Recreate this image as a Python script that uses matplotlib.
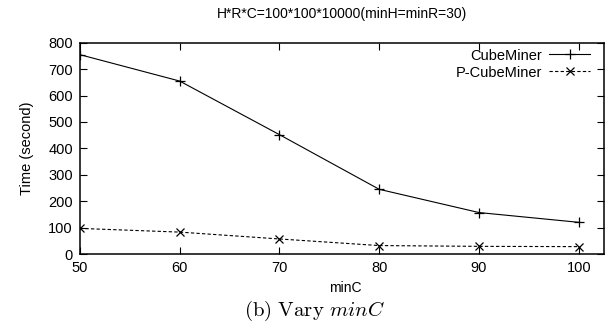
import matplotlib
matplotlib.use("Agg")
import matplotlib.pyplot as plt

min_c = [50, 60, 70, 80, 90, 100]
cubeminer = [755, 655, 452, 245, 157, 120]
p_cubeminer = [97, 83, 57, 32, 29, 28]
y_ticks = [0, 100, 200, 300, 400, 500, 600, 700, 800]

plt.rcParams["font.family"] = "Liberation Sans"
plt.rcParams["mathtext.fontset"] = "cm"

fig = plt.figure(figsize=(6.05, 3.24), dpi=100)
ax = fig.add_axes([0.132, 0.216, 0.866, 0.652])

ax.plot(min_c, cubeminer, color="black", linewidth=0.8, marker="+",
        markersize=6.5, markeredgewidth=0.9, label="CubeMiner")
ax.plot(min_c, p_cubeminer, color="black", linewidth=0.8, linestyle=(0, (3, 2)),
        marker="x", markersize=5.5, markeredgewidth=0.9, label="P-CubeMiner")

ax.set_xlim(50, 102.5)
ax.set_ylim(0, 800)
ax.set_xticks(min_c)
ax.set_yticks(y_ticks)
ax.tick_params(direction="in", length=5, width=0.8, labelsize=10.5,
               top=True, right=True, pad=5)
for s in ax.spines.values():
    s.set_linewidth(1.1)

ax.set_ylabel("Time (second)", fontsize=10.5, labelpad=10)
ax.set_title("H*R*C=100*100*10000(minH=minR=30)", fontsize=10, pad=18)

leg = ax.legend(loc="upper right", frameon=False, markerfirst=False, fontsize=10.5,
                handlelength=2.8, handletextpad=0.5, labelspacing=0.2,
                borderaxespad=0.0, bbox_to_anchor=(0.985, 1.0))

fig.text(0.57, 0.112, "minC", ha="center", va="center", fontsize=10)
fig.text(0.52, 0.004, r"$\mathrm{(b)\ Vary}\ minC$", ha="center", va="bottom",
         fontsize=15)

fig.savefig("out.png", dpi=100)
